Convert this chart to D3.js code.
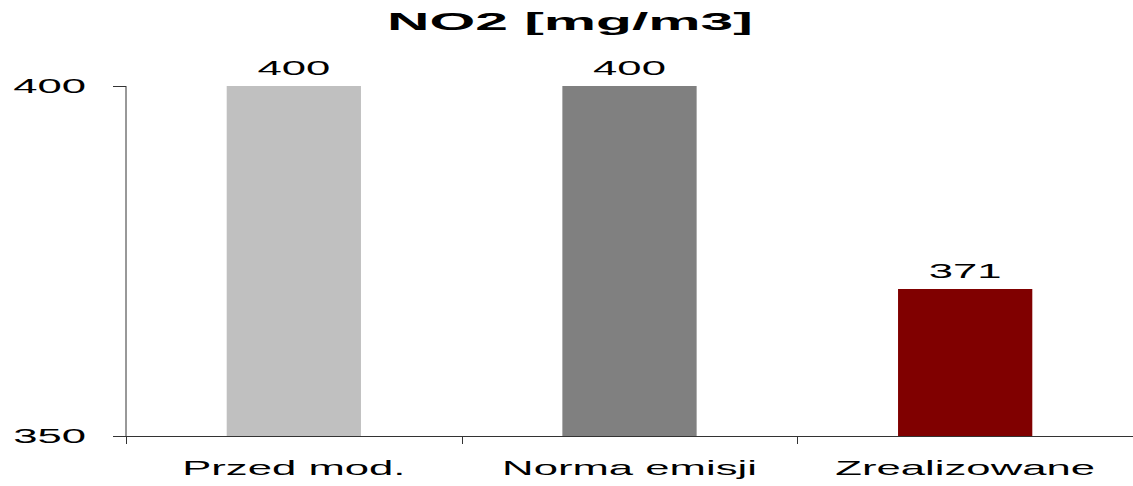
<!DOCTYPE html>
<html>
<head>
<meta charset="utf-8" />
<script src="https://d3js.org/d3.v7.min.js"></script>
<style>
  body { margin: 0; background: #fff; }
  text { font-family: "Liberation Sans", Arial, sans-serif; fill: #000; }
</style>
</head>
<body>
<script>
  // chart data
  var categories = ["Przed mod.", "Norma emisji", "Zrealizowane"];
  var values = [400, 400, 371];
  var barColors = ["#c0c0c0", "#808080", "#800000"];
  var yTicks = [350, 400];
  var title = "NO2 [mg/m3]";

  var w = 1133, h = 486;
  var stretch = 2.08;      // text in the picture is drawn wide

  var svg = d3.select("body").append("svg")
              .attr("width", w)
              .attr("height", h);

  var x = d3.scaleBand()
            .domain(categories)
            .range([126, 1133])
            .paddingInner(0.6)
            .paddingOuter(0.3);

  var y = d3.scaleLinear()
            .domain([350, 400])
            .range([436, 86]);

  // title
  svg.append("text")
     .attr("transform", "translate(570,30) scale(2.45,1)")
     .attr("text-anchor", "middle")
     .style("font-size", "24px")
     .style("font-weight", "bold")
     .text(title);

  // bars
  svg.selectAll("rect.bar")
     .data(values)
     .enter().append("rect")
     .attr("class", "bar")
     .attr("x", function(d, i) { return x(categories[i]); })
     .attr("y", function(d) { return y(d); })
     .attr("width", x.bandwidth())
     .attr("height", function(d) { return y(350) - y(d); })
     .attr("fill", function(d, i) { return barColors[i]; });

  // value labels
  svg.selectAll("text.val")
     .data(values)
     .enter().append("text")
     .attr("class", "val")
     .attr("text-anchor", "middle")
     .style("font-size", "21px")
     .attr("transform", function(d, i) {
        return "translate(" + (x(categories[i]) + x.bandwidth() / 2) + "," + (y(d) - 11) + ") scale(" + stretch + ",1)";
     })
     .text(function(d) { return d; });

  // y axis
  var yAxis = svg.append("g")
                 .attr("transform", "translate(126,0)")
                 .call(d3.axisLeft(y).tickValues(yTicks).tickSize(13).tickFormat(""));
  yAxis.selectAll("line, path").attr("stroke", "#333");
  yAxis.select("path.domain").attr("d", "M0," + y(350) + "V" + y(400));

  svg.selectAll("text.ylab")
     .data(yTicks)
     .enter().append("text")
     .attr("class", "ylab")
     .attr("text-anchor", "end")
     .style("font-size", "21px")
     .attr("transform", function(d) { return "translate(86," + (y(d) + 7) + ") scale(" + stretch + ",1)"; })
     .text(function(d) { return d; });

  // x axis
  var bounds = d3.range(categories.length + 1).map(function(i) {
    return Math.min(x.range()[0] + i * x.step(), w - 0.5);
  });
  svg.append("line")
     .attr("x1", x.range()[0]).attr("x2", x.range()[1])
     .attr("y1", y(350) + 0.5).attr("y2", y(350) + 0.5)
     .attr("stroke", "#333");
  svg.selectAll("line.xtick")
     .data(bounds)
     .enter().append("line")
     .attr("class", "xtick")
     .attr("x1", function(d) { return Math.round(d) + 0.5; })
     .attr("x2", function(d) { return Math.round(d) + 0.5; })
     .attr("y1", y(350))
     .attr("y2", y(350) + 8)
     .attr("stroke", "#333");

  svg.selectAll("text.xlab")
     .data(categories)
     .enter().append("text")
     .attr("class", "xlab")
     .attr("text-anchor", "middle")
     .style("font-size", "21px")
     .attr("transform", function(d) { return "translate(" + (x(d) + x.bandwidth() / 2) + ",475) scale(" + stretch + ",1)"; })
     .text(function(d) { return d; });
</script>
</body>
</html>
